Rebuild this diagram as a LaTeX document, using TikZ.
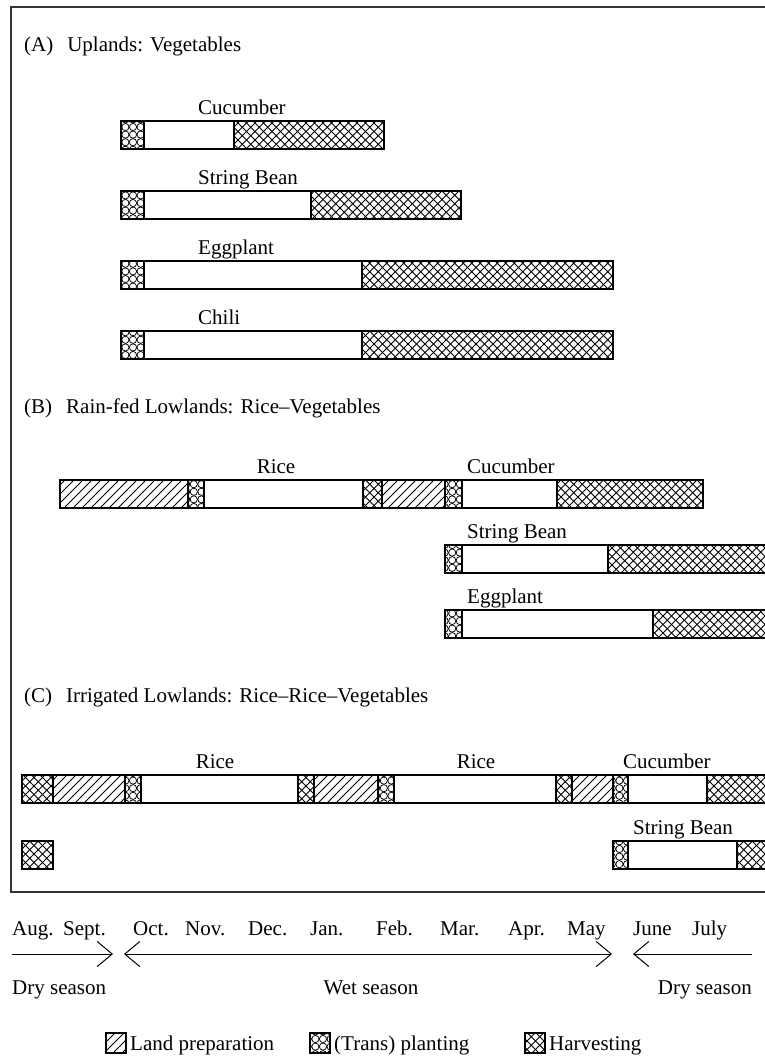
\documentclass[tikz,border=0pt]{standalone}
\usepackage{fontspec}
\setmainfont{Liberation Serif}
\usetikzlibrary{patterns,arrows.meta}

\pgfdeclarepatternformonly{hatch}{\pgfqpoint{-1pt}{-1pt}}{\pgfqpoint{10pt}{10pt}}{\pgfqpoint{9pt}{9pt}}{%
  \pgfsetlinewidth{0.75pt}
  \pgfpathmoveto{\pgfqpoint{0pt}{0pt}}
  \pgfpathlineto{\pgfqpoint{9.1pt}{9.1pt}}
  \pgfusepath{stroke}}
\pgfdeclarepatternformonly{xhatch}{\pgfqpoint{-1pt}{-1pt}}{\pgfqpoint{9.5pt}{9.5pt}}{\pgfqpoint{8.5pt}{8.5pt}}{%
  \pgfsetlinewidth{0.8pt}
  \pgfpathmoveto{\pgfqpoint{0pt}{0pt}}
  \pgfpathlineto{\pgfqpoint{8.6pt}{8.6pt}}
  \pgfpathmoveto{\pgfqpoint{0pt}{8.5pt}}
  \pgfpathlineto{\pgfqpoint{8.6pt}{-0.1pt}}
  \pgfusepath{stroke}}
\pgfdeclarepatternformonly{rings}{\pgfqpoint{-1pt}{-1pt}}{\pgfqpoint{9pt}{9pt}}{\pgfqpoint{7.6pt}{7.6pt}}{%
  \pgfsetlinewidth{0.75pt}
  \pgfpathcircle{\pgfqpoint{3.8pt}{3.8pt}}{3.6pt}
  \pgfusepath{stroke}}

\begin{document}
\begin{tikzpicture}[x=1pt,y=-1pt,
  every node/.style={inner sep=0pt,font=\fontsize{21}{25}\selectfont},
  seg/.style={draw=black,line width=1.1pt},
  prep/.style={seg,pattern=hatch},
  plant/.style={seg,pattern=rings},
  harv/.style={seg,pattern=xhatch},
  blank/.style={seg,fill=white},
  season/.style={line width=1pt,{Straight Barb[length=15pt,width=25pt]}-{Straight Barb[length=15pt,width=25pt]}}]
  \useasboundingbox (0,0) rectangle (765,1058);
  \clip (0,0) rectangle (765,1058);
  \draw[black!80,line width=1.3pt] (11,7) rectangle (780,892);

  % (A) uplands
  \node[anchor=base west] (headA) at (24,51) {(A)\hskip 14pt Uplands: Vegetables};
  \node[anchor=base west] (cucA) at (198,114) {Cucumber};
  \draw[plant] (121,121) rectangle (144,149);
  \draw[blank] (144,121) rectangle (234,149);
  \draw[harv] (234,121) rectangle (384,149);
  \node[anchor=base west] (beanA) at (198,184) {String Bean};
  \draw[plant] (121,191) rectangle (144,219);
  \draw[blank] (144,191) rectangle (311,219);
  \draw[harv] (311,191) rectangle (461,219);
  \node[anchor=base west] (eggA) at (198,254) {Eggplant};
  \draw[plant] (121,261) rectangle (144,289);
  \draw[blank] (144,261) rectangle (362,289);
  \draw[harv] (362,261) rectangle (613,289);
  \node[anchor=base west] (chiliA) at (198,324) {Chili};
  \draw[plant] (121,331) rectangle (144,359);
  \draw[blank] (144,331) rectangle (362,359);
  \draw[harv] (362,331) rectangle (613,359);

  % (B) rain-fed lowlands
  \node[anchor=base west] (headB) at (24,413) {(B)\hskip 14pt Rain-fed Lowlands: Rice--Vegetables};
  \node[anchor=base] (riceB) at (276,473) {Rice};
  \node[anchor=base west] (cucB) at (467,473) {Cucumber};
  \draw[prep] (60,480) rectangle (188,508);
  \draw[plant] (188,480) rectangle (204,508);
  \draw[blank] (204,480) rectangle (363,508);
  \draw[harv] (363,480) rectangle (382,508);
  \draw[prep] (382,480) rectangle (445,508);
  \draw[plant] (445,480) rectangle (462,508);
  \draw[blank] (462,480) rectangle (557,508);
  \draw[harv] (557,480) rectangle (703,508);
  \node[anchor=base west] (beanB) at (467,538) {String Bean};
  \draw[plant] (445,545) rectangle (462,573);
  \draw[blank] (462,545) rectangle (608,573);
  \draw[harv] (608,545) rectangle (775,573);
  \node[anchor=base west] (eggB) at (467,603) {Eggplant};
  \draw[plant] (445,610) rectangle (462,638);
  \draw[blank] (462,610) rectangle (653,638);
  \draw[harv] (653,610) rectangle (775,638);

  % (C) irrigated lowlands
  \node[anchor=base west] (headC) at (24,702) {(C)\hskip 14pt Irrigated Lowlands: Rice--Rice--Vegetables};
  \node[anchor=base] (riceC1) at (215,768) {Rice};
  \node[anchor=base] (riceC2) at (476,768) {Rice};
  \node[anchor=base west] (cucC) at (623,768) {Cucumber};
  \draw[harv] (22,775) rectangle (53,803);
  \draw[prep] (53,775) rectangle (125,803);
  \draw[plant] (125,775) rectangle (141,803);
  \draw[blank] (141,775) rectangle (298,803);
  \draw[harv] (298,775) rectangle (314,803);
  \draw[prep] (314,775) rectangle (378,803);
  \draw[plant] (378,775) rectangle (394,803);
  \draw[blank] (394,775) rectangle (556,803);
  \draw[harv] (556,775) rectangle (572,803);
  \draw[prep] (572,775) rectangle (613,803);
  \draw[plant] (613,775) rectangle (628,803);
  \draw[blank] (628,775) rectangle (707,803);
  \draw[harv] (707,775) rectangle (775,803);
  \draw[harv] (22,841) rectangle (53,869);
  \node[anchor=base west] (beanC) at (633,834) {String Bean};
  \draw[plant] (613,841) rectangle (628,869);
  \draw[blank] (628,841) rectangle (737,869);
  \draw[harv] (737,841) rectangle (775,869);

  % months and seasons
  \node[anchor=base west] (aug) at (12,935) {Aug.};
  \node[anchor=base west] (sep) at (63,935) {Sept.};
  \node[anchor=base west] (oct) at (133,935) {Oct.};
  \node[anchor=base west] (nov) at (185,935) {Nov.};
  \node[anchor=base west] (dec) at (248,935) {Dec.};
  \node[anchor=base west] (jan) at (310,935) {Jan.};
  \node[anchor=base west] (feb) at (376,935) {Feb.};
  \node[anchor=base west] (mar) at (440,935) {Mar.};
  \node[anchor=base west] (apr) at (508,935) {Apr.};
  \node[anchor=base west] (may) at (567,935) {May};
  \node[anchor=base west] (jun) at (633,935) {June};
  \node[anchor=base west] (jul) at (692,935) {July};
  \coordinate (dry1a) at (12,954);
  \coordinate (dry1b) at (113,954);
  \coordinate (weta) at (124,954);
  \coordinate (wetb) at (612,954);
  \coordinate (dry2a) at (633,954);
  \coordinate (dry2b) at (752,954);
  \draw[season,-{Straight Barb[length=15pt,width=25pt]}] (dry1a) -- (dry1b);
  \draw[season] (weta) -- (wetb);
  \draw[season,{Straight Barb[length=15pt,width=25pt]}-] (dry2a) -- (dry2b);
  \node[anchor=base west] (dryL) at (12,994) {Dry season};
  \node[anchor=base] (wetlbl) at (371,994) {Wet season};
  \node[anchor=base east] (dryR) at (752,994) {Dry season};

  % legend
  \draw[prep] (106,1033) rectangle (126,1053);
  \node[anchor=base west] (keyprep) at (130,1050) {Land preparation};
  \draw[plant] (310,1033) rectangle (330,1053);
  \node[anchor=base west] (keyplant) at (334,1050) {(Trans) planting};
  \draw[harv] (525,1033) rectangle (545,1053);
  \node[anchor=base west] (keyharv) at (549,1050) {Harvesting};
\end{tikzpicture}
\end{document}
